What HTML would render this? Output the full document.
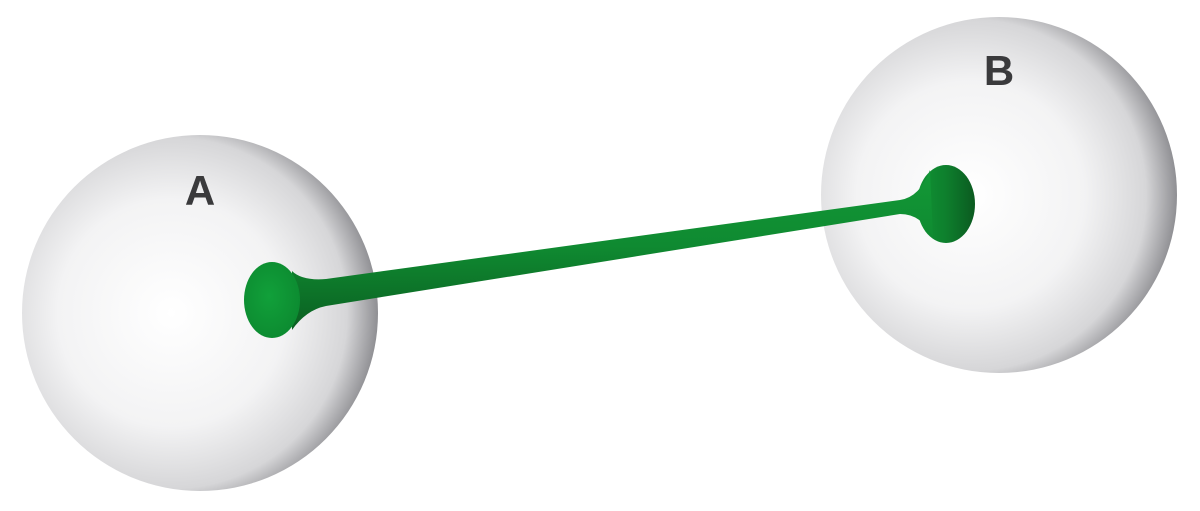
<!DOCTYPE html>
<html><head><meta charset="utf-8"><style>html,body{margin:0;padding:0;background:#fff}svg{display:block}</style></head>
<body>
<svg width="1200" height="511" viewBox="0 0 1200 511">
<defs>
<radialGradient id="sph" cx="0.42" cy="0.5" r="0.58">
<stop offset="0" stop-color="#ffffff"/><stop offset="0.55" stop-color="#f3f3f4"/><stop offset="0.85" stop-color="#d6d6d8"/><stop offset="1" stop-color="#8f8f93"/>
</radialGradient>
<linearGradient id="tube" x1="0" y1="0" x2="0.05" y2="1">
<stop offset="0" stop-color="#139a37"/><stop offset="0.5" stop-color="#0f8a31"/><stop offset="1" stop-color="#0b5f21"/>
</linearGradient>
<linearGradient id="capB" x1="0" y1="0" x2="1" y2="0">
<stop offset="0" stop-color="#109434"/><stop offset="0.5" stop-color="#0e7f2d"/><stop offset="1" stop-color="#0b5a20"/>
</linearGradient>
<radialGradient id="capA" cx="0.45" cy="0.45" r="0.6">
<stop offset="0" stop-color="#11a03a"/><stop offset="1" stop-color="#0c8a30"/>
</radialGradient>
</defs>
<circle cx="200" cy="313" r="178" fill="url(#sph)"/>
<circle cx="999" cy="195" r="178" fill="url(#sph)"/>
<text x="200" y="205" text-anchor="middle" font-family="Liberation Sans, sans-serif" font-weight="bold" font-size="42" fill="#3a3a3c">A</text>
<text x="999" y="85" text-anchor="middle" font-family="Liberation Sans, sans-serif" font-weight="bold" font-size="42" fill="#3a3a3c">B</text>
<ellipse cx="946" cy="204" rx="29" ry="39" fill="url(#capB)"/>
<path d="M292 271 Q302 281 326 279 L900 200 Q920 197 930 170 L933 238 Q922 214 900 214 L326 306 Q306 310 292 330 Z" fill="url(#tube)"/>
<ellipse cx="272" cy="300" rx="28" ry="38" fill="url(#capA)"/>
</svg>
</body></html>
